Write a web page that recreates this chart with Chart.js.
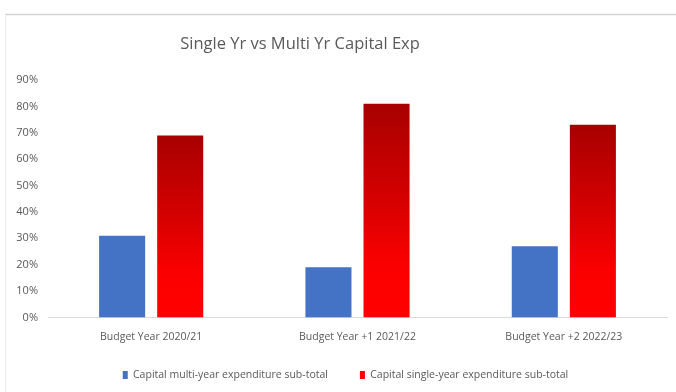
<!DOCTYPE html>
<html>
<head>
<meta charset="utf-8">
<script src="https://cdn.jsdelivr.net/npm/chart.js@4/dist/chart.umd.min.js"></script>
<style>
  html, body { margin: 0; padding: 0; background: #ffffff; }
  #wrap { position: relative; width: 676px; height: 392px; }
</style>
</head>
<body>
<div id="wrap"><canvas id="chart" width="676" height="392"></canvas></div>
<script>
// Budget years on the category axis
const categories = ['Budget Year 2020/21', 'Budget Year +1 2021/22', 'Budget Year +2 2022/23'];
// Share of capital expenditure, in percent
const multiYearShare = [31, 19, 27];
const singleYearShare = [69, 81, 73];
const seriesNames = ['Capital multi-year expenditure sub-total', 'Capital single-year expenditure sub-total'];
const chartTitle = 'Single Yr vs Multi Yr Capital Exp';
const yMax = 90;
const yStep = 10;

const FONT = "'Open Sans', sans-serif";
const TEXT = '#595959';
const BLUE = '#4472c4';
const LEGEND_GAP = 32;

// Vertical red gradient for each single-year bar, dark at its top
function redGradient(ctx) {
  const chart = ctx.chart;
  const y = chart.scales && chart.scales.y;
  if (!chart.chartArea || !y || ctx.type !== 'data') return '#e00000';
  const top = y.getPixelForValue(ctx.raw);
  const base = y.getPixelForValue(0);
  const g = chart.ctx.createLinearGradient(0, top, 0, base);
  g.addColorStop(0, '#a80000');
  g.addColorStop(0.45, '#d60000');
  g.addColorStop(0.75, '#fb0000');
  g.addColorStop(1, '#ff0000');
  return g;
}

// Frame lines, the title text and the legend row placement
const framePlugin = {
  id: 'frame',
  afterUpdate(chart) {
    const lg = chart.legend;
    if (lg) {
      // wide gap between entries, but keep the row close to the axis labels
      const h = lg.bottom - lg.top;
      lg.top = 376 - LEGEND_GAP - 6.3;
      lg.bottom = lg.top + h;
      lg.left -= 12;
      lg.right -= 12;
    }
  },
  beforeDraw(chart) {
    const c = chart.ctx;
    c.save();
    c.fillStyle = '#ffffff';
    c.fillRect(0, 0, chart.width, chart.height);
    c.strokeStyle = '#d4d4d4';
    c.lineWidth = 1.5;
    c.beginPath();
    c.moveTo(5, 14.5);
    c.lineTo(chart.width, 14.5);
    c.stroke();
    c.strokeStyle = '#eeeeee';
    c.lineWidth = 1;
    c.beginPath();
    c.moveTo(5.5, 14.5);
    c.lineTo(5.5, chart.height);
    c.stroke();
    c.fillStyle = TEXT;
    c.font = '16.5px ' + FONT;
    c.textAlign = 'center';
    c.textBaseline = 'middle';
    c.fillText(chartTitle, 300, 44);
    c.restore();
  }
};

new Chart(document.getElementById('chart'), {
  type: 'bar',
  data: {
    labels: categories,
    datasets: [
      { label: seriesNames[0], data: multiYearShare, backgroundColor: BLUE },
      { label: seriesNames[1], data: singleYearShare, backgroundColor: redGradient }
    ]
  },
  options: {
    responsive: false,
    animation: false,
    devicePixelRatio: 1,
    categoryPercentage: 0.563,
    barPercentage: 0.793,
    layout: { padding: { left: 0, right: 9, top: 80, bottom: -8 } },
    plugins: {
      title: { display: false },
      tooltip: { enabled: false },
      legend: {
        position: 'bottom',
        fullSize: false,
        labels: {
          color: TEXT,
          font: { family: FONT, size: 10.5 },
          boxWidth: 5,
          boxHeight: 8,
          padding: LEGEND_GAP
        }
      }
    },
    scales: {
      x: {
        grid: { display: false, drawTicks: false },
        border: { display: true, color: '#d9d9d9', width: 1 },
        ticks: { color: TEXT, font: { family: FONT, size: 10.5 }, padding: 13, maxRotation: 0 },
        afterFit(scale) { scale.height = 30; }
      },
      y: {
        min: 0,
        max: yMax,
        grid: { display: false, drawTicks: false },
        border: { display: false },
        ticks: {
          stepSize: yStep,
          color: TEXT,
          font: { family: FONT, size: 11 },
          padding: 10,
          callback: v => v + '%'
        },
        afterFit(scale) { scale.width = 48; }
      }
    }
  },
  plugins: [framePlugin]
});
</script>
</body>
</html>
